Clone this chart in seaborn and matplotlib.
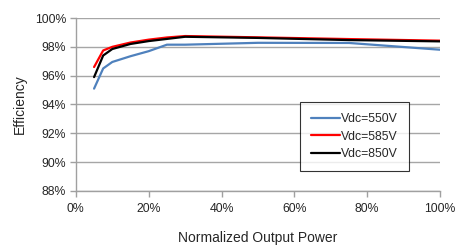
import pandas as pd
import matplotlib.pyplot as plt
import seaborn as sns
from matplotlib.ticker import PercentFormatter

# Data
power = [5, 7.5, 10, 15, 20, 25, 30, 50, 75, 100]
eff_550 = [95.1, 96.5, 96.95, 97.35, 97.7, 98.15, 98.15, 98.28, 98.27, 97.8]
eff_585 = [96.6, 97.75, 98.0, 98.3, 98.5, 98.65, 98.75, 98.66, 98.54, 98.43]
eff_850 = [95.9, 97.4, 97.85, 98.2, 98.4, 98.55, 98.7, 98.62, 98.47, 98.38]
series = ['Vdc=550V', 'Vdc=585V', 'Vdc=850V']
colors = ['#4F81BD', '#FF0000', '#000000']

df = pd.DataFrame({
    'power': power * 3,
    'eff': eff_550 + eff_585 + eff_850,
    'series': [s for s in series for _ in power],
})

sns.set_style('white')
plt.rcParams['font.family'] = ['Liberation Sans', 'DejaVu Sans']

fig = plt.figure(figsize=(4.57, 2.47), dpi=100)
ax = fig.add_axes([0.166, 0.227, 0.797, 0.70])

sns.lineplot(data=df, x='power', y='eff', hue='series', palette=colors,
             linewidth=1.6, ax=ax, legend=True)

ax.set_xlim(0, 100)
ax.set_ylim(88, 100)
ax.set_xticks(range(0, 101, 20))
ax.set_yticks(range(88, 101, 2))
ax.xaxis.set_major_formatter(PercentFormatter(decimals=0))
ax.yaxis.set_major_formatter(PercentFormatter(decimals=0))
ax.tick_params(axis='both', labelsize=8.8, length=4, width=1, color='#a0a0a0',
               direction='out', bottom=True, left=True, pad=3)
ax.tick_params(axis='x', pad=5)

ax.grid(axis='y', color='#a6a6a6', linewidth=1)
ax.set_axisbelow(True)
for side in ['top', 'right']:
    ax.spines[side].set_visible(False)
for side in ['left', 'bottom']:
    ax.spines[side].set_color('#a0a0a0')
    ax.spines[side].set_linewidth(1)

ax.set_xlabel('Normalized Output Power', fontsize=10, labelpad=11)
ax.set_ylabel('Efficiency', fontsize=10, labelpad=6)

leg = ax.legend(title=None, loc='upper left', bbox_to_anchor=(0.615, 0.514),
                borderaxespad=0, fontsize=8.8, frameon=True, fancybox=False,
                handlelength=2.4, handletextpad=0.1, borderpad=0.9,
                labelspacing=0.45)
leg.get_frame().set_edgecolor('black')
leg.get_frame().set_linewidth(0.8)

fig.savefig('out.png', dpi=100)
